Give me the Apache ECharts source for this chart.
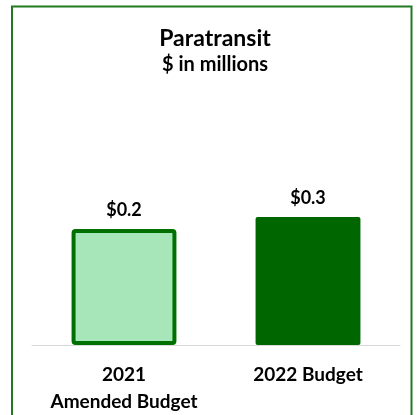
<!DOCTYPE html>
<html>
<head>
<meta charset="utf-8">
<script src="https://cdn.jsdelivr.net/npm/echarts@6/dist/echarts.min.js"></script>
<style>
  html, body { margin: 0; padding: 0; background: #fff; }
  #chart { width: 418px; height: 415px; }
</style>
</head>
<body>
<div id="chart"></div>
<script>
// Paratransit budget, $ in millions
const categories = ['2021\nAmended Budget', '2022 Budget'];
const budgetValues = [0.24, 0.265];
const titleText = 'Paratransit';
const subtitleText = '$ in millions';

const FONT = 'Lato, "Open Sans", sans-serif';
const fills = ['#a6e6b8', '#006600'];
const strokes = ['#007000', '#006600'];
const strokeWidths = [4, 0];

const chart = echarts.init(document.getElementById('chart'), null, { renderer: 'canvas' });

chart.setOption({
  backgroundColor: '#ffffff',
  animation: false,
  title: {
    text: titleText,
    subtext: subtitleText,
    left: 210,
    textAlign: 'center',
    top: 22,
    itemGap: 5,
    textStyle: { fontFamily: FONT, fontWeight: 'bold', fontSize: 23, color: '#000' },
    subtextStyle: { fontFamily: FONT, fontWeight: 'bold', fontSize: 20, color: '#000' }
  },
  grid: { left: 32, right: 18, top: 103.5, bottom: 70, containLabel: false },
  xAxis: {
    type: 'category',
    data: categories,
    axisLine: { show: true, lineStyle: { color: '#d9d9d9', width: 1 } },
    axisTick: { show: false },
    axisLabel: {
      fontFamily: FONT, fontWeight: 'bold', fontSize: 19, color: '#000',
      margin: 16, lineHeight: 27, interval: 0
    }
  },
  yAxis: {
    type: 'value', min: 0, max: 0.5,
    show: false, splitLine: { show: false }
  },
  series: [{
    type: 'bar',
    barWidth: '57%',
    data: budgetValues.map((v, i) => ({
      value: v,
      itemStyle: {
        color: fills[i],
        borderColor: strokes[i],
        borderWidth: strokeWidths[i],
        borderRadius: 2
      }
    })),
    label: {
      show: true,
      position: 'top',
      distance: 10,
      fontFamily: FONT, fontWeight: 'bold', fontSize: 18, color: '#000',
      formatter: p => '$' + p.value.toFixed(1)
    }
  }],
  graphic: [{
    type: 'rect',
    shape: { x: 12, y: 6.5, width: 399.5, height: 430 },
    style: { fill: 'none', stroke: '#217a21', lineWidth: 2 },
    silent: true
  }]
});
</script>
</body>
</html>
